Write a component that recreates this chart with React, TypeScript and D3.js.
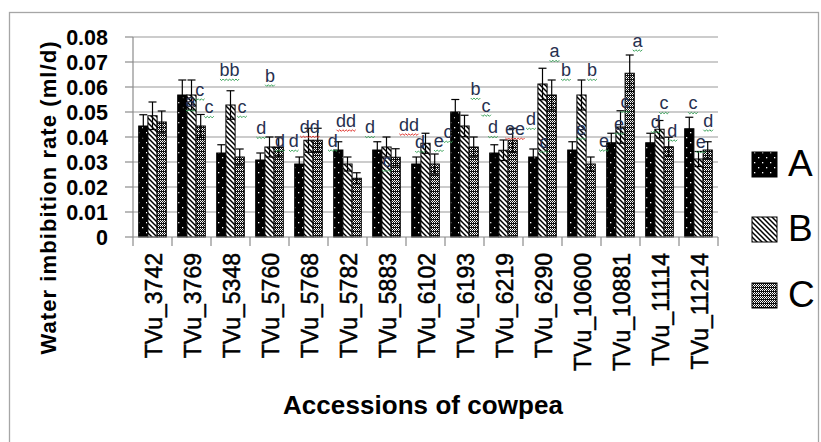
import React from "react";
import * as d3 from "d3";

const categories = ["TVu_3742","TVu_3769","TVu_5348","TVu_5760","TVu_5768","TVu_5782","TVu_5883","TVu_6102","TVu_6193","TVu_6219","TVu_6290","TVu_10600","TVu_10881","TVu_11114","TVu_11214"];
const seriesNames = ["A","B","C"];
const valuesA = [0.0444,0.0568,0.0336,0.0308,0.0292,0.0348,0.0348,0.0292,0.0500,0.0336,0.0320,0.0348,0.0377,0.0377,0.0433];
const errorsA = [0.0045,0.0060,0.0033,0.0028,0.0028,0.0033,0.0033,0.0028,0.0050,0.0033,0.0032,0.0033,0.0038,0.0038,0.0046];
const valuesB = [0.0485,0.0568,0.0528,0.0360,0.0387,0.0292,0.0360,0.0375,0.0444,0.0347,0.0612,0.0568,0.0440,0.0431,0.0312];
const errorsB = [0.0055,0.0060,0.0057,0.0040,0.0048,0.0028,0.0040,0.0040,0.0043,0.0041,0.0063,0.0060,0.0065,0.0035,0.0030];
const valuesC = [0.0460,0.0444,0.0320,0.0360,0.0387,0.0235,0.0319,0.0292,0.0360,0.0387,0.0568,0.0292,0.0655,0.0361,0.0348];
const errorsC = [0.0044,0.0046,0.0032,0.0040,0.0048,0.0022,0.0034,0.0040,0.0040,0.0048,0.0060,0.0028,0.0073,0.0038,0.0033];
const yTicks = [0,0.01,0.02,0.03,0.04,0.05,0.06,0.07,0.08];

// significance letters: text, category index, bar-slot offset, value level
const letterText = ["c","a","c","bb","c","b","d","d","d","dd","d","dd","d","c","dd","d","e","c","b","c","d","ee","d","c","a","b","e","b","e","e","c","a","d","c","d","c","e","d"];
const letterCat = [1,1,1,2,2,3,3,3,4,4,5,5,6,6,7,7,7,8,8,8,9,9,10,10,10,10,11,11,12,12,12,12,13,13,13,14,14,14];
const letterSlot = [0.9,-0.1,1.9,-0.1,1.25,0.05,-0.9,1.15,-1.6,0.15,-1.6,-0.15,-1.8,0.05,-1.8,-0.6,1.45,-1.8,1.2,2.35,-1.15,1.25,-1.25,0.15,1.3,2.55,-0.05,1.15,-1.8,-0.15,0.5,1.85,-0.4,0.5,1.4,-0.6,0.25,1.05];
const letterLevel = [0.0565,0.0521,0.0495,0.0644,0.0496,0.0621,0.0412,0.0360,0.0360,0.0416,0.0361,0.0441,0.0415,0.0280,0.0425,0.0356,0.0360,0.0396,0.0568,0.0501,0.0415,0.0408,0.0448,0.0356,0.0719,0.0644,0.0408,0.0644,0.0361,0.0428,0.0516,0.0761,0.0435,0.0511,0.0401,0.0511,0.0355,0.0441];
const letterRed = ["dd","ee"];

const W = 821, H = 442;
const left = 133, right = 718, top = 37, bottom = 237;

export default function App() {
  const x = d3.scaleBand<string>().domain(categories).range([left, right]).paddingInner(0).paddingOuter(0);
  const y = d3.scaleLinear().domain([0, 0.08]).range([bottom, top]);
  const barW = 9.2;
  const series = [
    { name: "A", vals: valuesA, errs: errorsA, fill: "url(#patA)" },
    { name: "B", vals: valuesB, errs: errorsB, fill: "url(#patB)" },
    { name: "C", vals: valuesC, errs: errorsC, fill: "url(#patC)" },
  ];
  const center = (i: number) => (x(categories[i]) as number) + x.bandwidth() / 2;
  const cap = 4;

  const squiggle = (cx: number, by: number, w: number) => {
    const pts: [number, number][] = [];
    const x0 = cx - w / 2;
    const n = Math.max(2, Math.round(w / 1.6));
    for (let k = 0; k <= n; k++) pts.push([x0 + (k * w) / n, by + (k % 2 === 0 ? 0 : 1.6)]);
    return d3.line()(pts) as string;
  };

  const font = "'Liberation Sans', Arial, sans-serif";

  return (
    <svg width={W} height={H} style={{ position: "absolute", left: 0, top: 0, background: "#fff" }} fontFamily={font}>
      <defs>
        <pattern id="patA" patternUnits="userSpaceOnUse" width="8" height="10">
          <rect width="8" height="10" fill="#000" />
          <rect x="2" y="2" width="1.3" height="1.3" fill="#fff" />
          <rect x="6" y="7" width="1.3" height="1.3" fill="#fff" />
        </pattern>
        <pattern id="patB" patternUnits="userSpaceOnUse" width="5" height="5">
          <rect width="5" height="5" fill="#fff" />
          <path d="M-1,-1 L6,6 M-1,4 L1,6 M4,-1 L6,1" stroke="#000" strokeWidth="1.5" />
        </pattern>
        <pattern id="patC" patternUnits="userSpaceOnUse" width="4" height="4">
          <rect width="4" height="4" fill="#111" />
          <rect x="0" y="0" width="1" height="1" fill="#fff" />
          <rect x="2" y="0" width="1" height="1" fill="#fff" />
          <rect x="1" y="1" width="1" height="1" fill="#fff" />
          <rect x="3" y="1" width="1" height="1" fill="#ddd" />
          <rect x="0" y="2" width="1" height="1" fill="#fff" />
          <rect x="2" y="2" width="1" height="1" fill="#fff" />
        </pattern>
      </defs>

      <rect x={9.5} y={12.5} width={809} height={460} fill="none" stroke="#a6a6a6" strokeWidth={1.3} />

      {/* gridlines */}
      {yTicks.filter((t) => t > 0).map((t) => (
        <line key={"g" + t} x1={left} x2={right} y1={y(t)} y2={y(t)} stroke="#9a9a9a" strokeWidth={1.2} />
      ))}
      {/* y axis */}
      <line x1={left} x2={left} y1={top} y2={bottom} stroke="#8c8c8c" strokeWidth={1.2} />
      {yTicks.map((t) => (
        <g key={"yt" + t}>
          <line x1={left - 8} x2={left} y1={y(t)} y2={y(t)} stroke="#8c8c8c" strokeWidth={1.2} />
          <text x={108} y={y(t)} dy="0.36em" textAnchor="end" fontSize={21.5} fontWeight="bold" fill="#000">
            {t === 0 ? "0" : t.toFixed(2)}
          </text>
        </g>
      ))}

      {/* bars */}
      {series.map((s, si) => (
        <g key={s.name}>
          {categories.map((c, i) => {
            const cx = center(i) + (si - 1) * barW;
            return (
              <rect key={c} x={cx - barW / 2} y={y(s.vals[i])} width={barW} height={bottom - y(s.vals[i])} fill={s.fill} stroke="#000" strokeWidth={1} />
            );
          })}
        </g>
      ))}
      {/* error bars */}
      {series.map((s, si) => (
        <g key={"e" + s.name} stroke="#000" strokeWidth={1.2}>
          {categories.map((c, i) => {
            const cx = center(i) + (si - 1) * barW;
            const hi = y(s.vals[i] + s.errs[i]);
            const lo = y(s.vals[i] - s.errs[i]);
            return (
              <g key={c}>
                <line x1={cx} x2={cx} y1={hi} y2={lo} />
                <line x1={cx - cap} x2={cx + cap} y1={hi} y2={hi} />
                <line x1={cx - cap} x2={cx + cap} y1={lo} y2={lo} />
              </g>
            );
          })}
        </g>
      ))}

      {/* x axis */}
      <line x1={left} x2={right} y1={bottom} y2={bottom} stroke="#8c8c8c" strokeWidth={1.2} />
      {d3.range(categories.length + 1).map((k) => {
        const xx = left + k * x.bandwidth();
        return <line key={"xt" + k} x1={xx} x2={xx} y1={bottom} y2={bottom + 9} stroke="#8c8c8c" strokeWidth={1.2} />;
      })}
      {categories.map((c, i) => (
        <text key={"xl" + c} transform={`translate(${center(i) + 9},253) rotate(-90)`} textAnchor="end" fontSize={23} fill="#000" stroke="#000" strokeWidth={0.5}>
          {c}
        </text>
      ))}

      {/* significance letters */}
      {letterText.map((t, k) => {
        const cx = center(letterCat[k]) + letterSlot[k] * barW;
        const by = y(letterLevel[k]);
        const w = t.length * 9.6;
        const red = letterRed.includes(t);
        return (
          <g key={"lt" + k}>
            <text x={cx} y={by} textAnchor="middle" fontSize={18} fill="#27304f">{t}</text>
            <path d={squiggle(cx, by + 3, w)} fill="none" stroke={red ? "#e0302a" : "#3aa35a"} strokeWidth={1} />
          </g>
        );
      })}

      {/* axis titles */}
      <text transform={`translate(56,198) rotate(-90)`} textAnchor="middle" fontSize={22} fontWeight="bold" textLength={313} fill="#000">
        Water imbibition rate (ml/d)
      </text>
      <text x={423} y={414} textAnchor="middle" fontSize={26} fontWeight="bold" textLength={280} fill="#000">
        Accessions of cowpea
      </text>

      {/* legend */}
      {seriesNames.map((n, i) => {
        const ly = [152, 217, 283][i];
        return (
          <g key={"lg" + n}>
            <rect x={752} y={ly} width={25} height={25} fill={series[i].fill} stroke="#000" strokeWidth={1} />
            <text x={788} y={ly + 24} fontSize={37} fill="#000">{n}</text>
          </g>
        );
      })}
    </svg>
  );
}
